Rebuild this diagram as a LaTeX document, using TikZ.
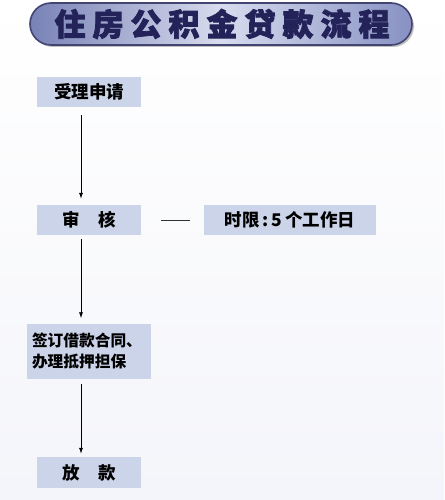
\documentclass[tikz,border=0pt]{standalone}
\usepackage{fontspec}
\newfontfamily\cjk{Noto Sans CJK SC}
\newfontfamily\cjkt[BoldFeatures={FakeBold=2.5}]{Noto Sans CJK SC}
\usetikzlibrary{arrows.meta}
\definecolor{bg}{RGB}{244,245,250}
\definecolor{boxfill}{RGB}{203,212,232}
\definecolor{navy}{RGB}{35,35,90}
\definecolor{bandL}{RGB}{120,130,182}
\definecolor{bandM}{RGB}{215,220,238}
\definecolor{bandR}{RGB}{135,145,195}
\newcommand{\tgap}{\hspace{7pt}}
\tikzset{
  stepbox/.style={fill=boxfill, inner sep=0pt, font=\cjk\bfseries\fontsize{17.5}{20}\selectfont, text=black},
  arr/.style={draw=black, line width=0.8pt, -{Latex[length=6pt,width=4pt]}},
  link/.style={draw=black!80, line width=0.8pt}
}
\begin{document}
\begin{tikzpicture}[x=1pt,y=-1pt]
\useasboundingbox (0,0) rectangle (444,500);
\shade[top color=white, bottom color=bg] (0,0) rectangle (444,500);
% title banner
\fill[black!25] (32,6) [rounded corners=21pt] rectangle (414,47);
\shade[left color=bandL, right color=bandR, middle color=bandM, rounded corners=21pt]
  (30,3) rectangle (412,45);
\draw[navy!85, line width=1.6pt, rounded corners=21pt] (30,3) rectangle (412,45);
\node[font=\cjkt\bfseries\fontsize{31}{32}\selectfont, text=navy, inner sep=0pt] (title) at (222,24)
  {住\tgap 房\tgap 公\tgap 积\tgap 金\tgap 贷\tgap 款\tgap 流\tgap 程};
% boxes
\node[stepbox, minimum width=104pt, minimum height=30pt] (b1) at (89,92) {受理申请};
\node[stepbox, minimum width=104pt, minimum height=30pt] (b2) at (89,220) {审\hspace{19pt}核};
\node[stepbox, minimum width=172pt, minimum height=30pt] (t) at (290,220) {时限\,:\,5\,个工作日};
\node[stepbox, minimum width=124pt, minimum height=55pt, align=left, text width=114pt,
  font=\cjk\bfseries\fontsize{15.7}{21.5}\selectfont] (b3) at (89,351) {签订借款合同、\\办理抵押担保};
\node[stepbox, minimum width=104pt, minimum height=31pt] (b4) at (89,472.5) {放\hspace{19pt}款};
% connectors
\draw[arr] ([xshift=-8pt,yshift=-8pt]b1.south) -- ([xshift=-8pt,yshift=6pt]b2.north);
\draw[arr] ([xshift=-8pt,yshift=-4pt]b2.south) -- ([xshift=-8pt,yshift=5pt]b3.north);
\draw[arr] ([xshift=-8pt,yshift=-5pt]b3.south) -- ([xshift=-8pt,yshift=3pt]b4.north);
\draw[link] ([xshift=20pt]b2.east) -- ([xshift=-14pt]t.west);
\end{tikzpicture}
\end{document}
